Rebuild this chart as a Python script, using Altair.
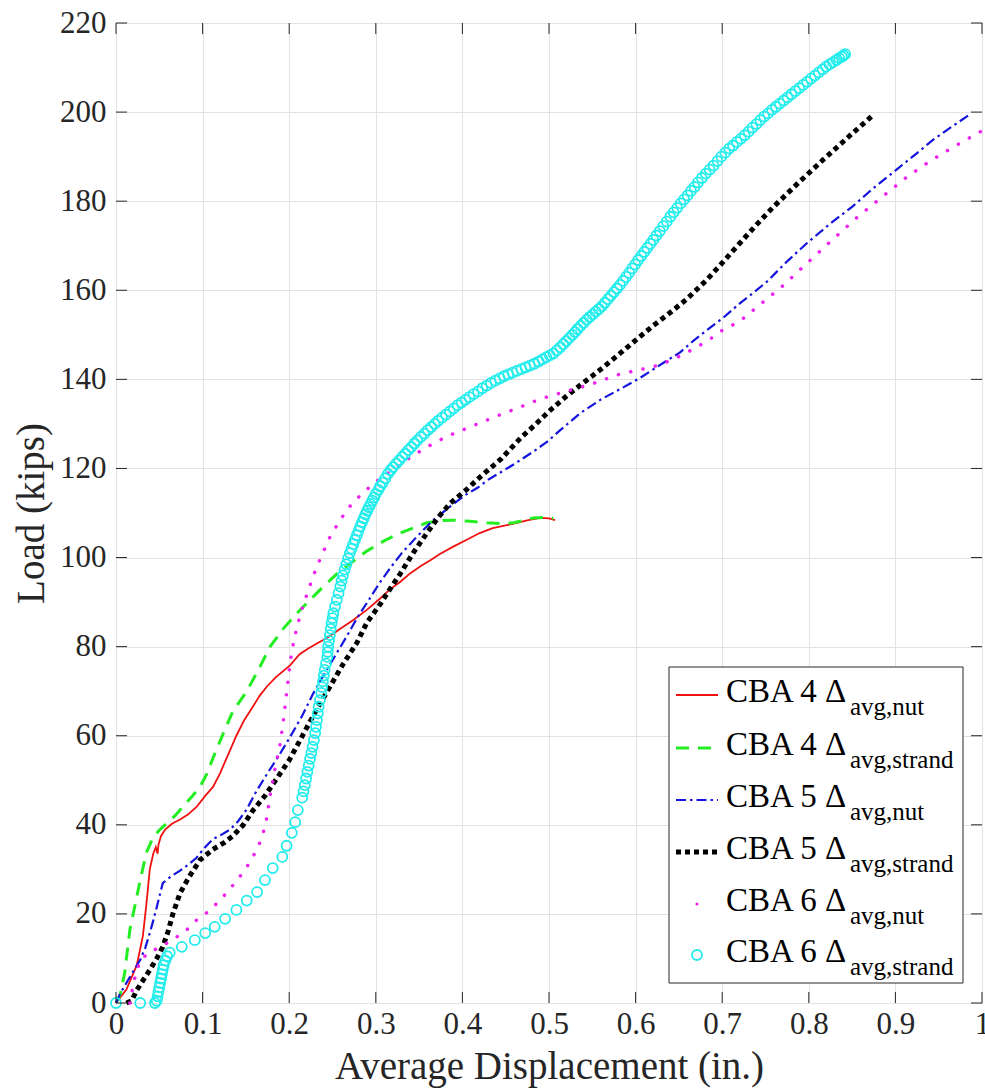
import altair as alt
import pandas as pd

# ---------------- data ----------------
x_ticks = [0, 0.1, 0.2, 0.3, 0.4, 0.5, 0.6, 0.7, 0.8, 0.9, 1]
y_ticks = [0, 20, 40, 60, 80, 100, 120, 140, 160, 180, 200, 220]

cba4_nut_x = [0, 0.012, 0.024, 0.031, 0.035, 0.039, 0.043, 0.046, 0.048, 0.049, 0.052, 0.057, 0.065, 0.074,
              0.083, 0.093, 0.103, 0.112, 0.120, 0.130, 0.139, 0.148, 0.158, 0.166, 0.174, 0.185, 0.201, 0.212,
              0.222, 0.233, 0.244, 0.259, 0.274, 0.290, 0.305, 0.316, 0.328, 0.340, 0.352, 0.363, 0.374, 0.390,
              0.405, 0.420, 0.435, 0.450, 0.463, 0.476, 0.490, 0.500, 0.507]
cba4_nut_y = [0, 3, 8.5, 15, 22, 30, 33.5, 35, 33.5, 35.5, 37.5, 39, 40.3, 41.2,
              42.3, 44, 46.5, 48.5, 51.5, 56, 60, 63.5, 66.5, 69, 71, 73.2, 75.8, 78.3,
              79.6, 80.8, 82, 84, 86, 88.3, 90.8, 92.8, 94.5, 96.5, 98.1, 99.4, 100.8, 102.5,
              104, 105.5, 106.6, 107.2, 107.8, 108.4, 108.9, 108.8, 108.4]

cba4_strand_x = [0, 0.005, 0.010, 0.016, 0.022, 0.028, 0.035, 0.043, 0.051, 0.059, 0.068, 0.077, 0.087, 0.097,
                 0.105, 0.112, 0.124, 0.135, 0.151, 0.165, 0.178, 0.193, 0.209, 0.224, 0.239, 0.256, 0.274,
                 0.290, 0.310, 0.328, 0.345, 0.359, 0.375, 0.389, 0.405, 0.428, 0.445, 0.459, 0.470, 0.482,
                 0.495, 0.505]
cba4_strand_y = [0, 2, 6.7, 16.4, 22, 27.6, 33.7, 37.3, 39, 40.4, 42, 44, 46.2, 48.5,
                 51.5, 55, 60.6, 65.5, 70, 75, 80, 84, 87.5, 90.5, 93.4, 96.5, 99.2,
                 101.5, 103.8, 105.5, 106.8, 107.8, 108.3, 108.4, 108.2, 107.8, 107.6, 107.8, 108.3, 108.9,
                 109, 108.8]

cba5_nut_x = [0, 0.005, 0.016, 0.028, 0.034, 0.039, 0.043, 0.047, 0.054, 0.064, 0.074, 0.083, 0.093, 0.102,
              0.112, 0.122, 0.132, 0.141, 0.151, 0.162, 0.174, 0.188, 0.201, 0.215, 0.228, 0.241, 0.255,
              0.267, 0.278, 0.292, 0.305, 0.318, 0.330, 0.347, 0.365, 0.386, 0.403, 0.417, 0.430, 0.443,
              0.460, 0.482, 0.498, 0.513, 0.536, 0.560, 0.582, 0.605, 0.620, 0.636, 0.651, 0.667, 0.682,
              0.701, 0.720, 0.737, 0.752, 0.775, 0.798, 0.825, 0.851, 0.875, 0.902, 0.925, 0.943, 0.965, 0.986]
cba5_nut_y = [0, 2.2, 5.8, 9.7, 12.5, 15.7, 18.5, 21.5, 26.9, 28.5, 29.7, 31, 32.6, 34.8,
              36.8, 37.8, 39, 40.8, 43.5, 47.5, 51.3, 55.5, 59.7, 64.5, 69.6, 74, 78.6,
              82.5, 86.3, 90.5, 94.5, 98, 101, 104.6, 108.2, 111.5, 114, 115.6, 117.5, 119,
              121, 123.8, 126, 128.6, 132.4, 135.5, 137.8, 140.3, 142.2, 144.2, 146, 148.7, 151,
              153.8, 157, 159.6, 162, 166.5, 170.6, 175, 178.9, 183, 187.2, 190.8, 193.7, 196.7, 199.5]

cba5_strand_x = [0.012, 0.018, 0.024, 0.031, 0.039, 0.047, 0.054, 0.060, 0.066, 0.074, 0.085, 0.097, 0.112,
                 0.125, 0.135, 0.147, 0.158, 0.172, 0.186, 0.200, 0.212, 0.225, 0.232, 0.247, 0.262, 0.278,
                 0.290, 0.305, 0.315, 0.328, 0.343, 0.359, 0.372, 0.386, 0.405, 0.420, 0.445, 0.467, 0.485,
                 0.501, 0.520, 0.540, 0.562, 0.583, 0.605, 0.620, 0.640, 0.659, 0.682, 0.697, 0.720,
                 0.740, 0.759, 0.790, 0.816, 0.845, 0.874]
cba5_strand_y = [0, 0.5, 2.9, 5, 7.4, 10, 12.6, 16, 20.2, 24.7, 28.5, 32.1, 34.5,
                 36, 37.5, 40, 43.2, 46.5, 50.5, 54.5, 58.8, 63.5, 66, 71, 76, 80.8,
                 85.5, 89.5, 92.5, 96.3, 101, 105.5, 109, 112.2, 115.3, 118, 122.2, 126.8, 130,
                 133, 136.2, 139.3, 142.6, 146, 149.6, 152, 155, 158, 162.3, 165.5, 170.5,
                 174.8, 178.7, 184.5, 189.2, 194.3, 199.3]

cba6_nut_x = [0.016, 0.018, 0.020, 0.024, 0.028, 0.040, 0.055, 0.070, 0.082, 0.093, 0.109, 0.120, 0.130,
              0.140, 0.150, 0.158, 0.165, 0.170, 0.174, 0.178, 0.183, 0.189, 0.193, 0.197, 0.201, 0.205,
              0.209, 0.214, 0.220, 0.228, 0.236, 0.247, 0.259, 0.272, 0.285, 0.300, 0.320, 0.340, 0.359,
              0.382, 0.405, 0.420, 0.443, 0.467, 0.482, 0.500, 0.520, 0.550, 0.582, 0.620, 0.640, 0.659,
              0.682, 0.700, 0.720, 0.740, 0.770, 0.798, 0.827, 0.856, 0.885, 0.913, 0.940, 0.970, 1.0]
cba6_nut_y = [0, 2, 4.5, 7, 9.7, 11.5, 13, 14.8, 16.5, 18.6, 20.9, 23.1, 25.2,
              27.6, 30.2, 32.8, 35.5, 38.2, 41.5, 46.5, 52, 57.5, 63, 69.6, 76.3, 81,
              84.4, 88, 91.5, 96, 99.8, 104.6, 108.5, 112, 114.5, 117, 119.8, 122.5, 124.8,
              127.2, 129, 130.2, 132, 133.8, 135, 136.2, 137.3, 139, 141.2, 142.8, 144.2, 146,
              148.5, 151, 153, 156.2, 161, 166.1, 171.3, 176.4, 181, 185.4, 189, 192.5, 195.8]

cba6_strand_x = [0, 0.028, 0.045, 0.047, 0.048, 0.049, 0.050, 0.051, 0.052, 0.053, 0.054, 0.055, 0.057,
                 0.059, 0.062, 0.076, 0.091, 0.103, 0.114, 0.126, 0.139, 0.151, 0.163, 0.172, 0.181, 0.192,
                 0.197, 0.203, 0.207, 0.210,
                 0.215, 0.2165, 0.218, 0.2195, 0.221, 0.2225, 0.224, 0.2255, 0.227, 0.2285, 0.230, 0.231,
                 0.232, 0.233, 0.234, 0.2355, 0.237, 0.238, 0.239, 0.240, 0.241, 0.2425, 0.244, 0.2445,
                 0.245, 0.246, 0.247, 0.248, 0.249, 0.250, 0.251, 0.253, 0.255, 0.257, 0.259, 0.2605,
                 0.262, 0.264, 0.266, 0.268, 0.270, 0.272, 0.274, 0.276, 0.278, 0.280, 0.282, 0.284,
                 0.286, 0.288, 0.290, 0.292, 0.294, 0.296, 0.298, 0.300, 0.303, 0.305, 0.308, 0.311,
                 0.314, 0.317, 0.320, 0.3235, 0.327, 0.3305, 0.334, 0.3375, 0.341, 0.3445, 0.348, 0.352,
                 0.356, 0.360, 0.364, 0.368, 0.372, 0.3765, 0.381, 0.3855, 0.390, 0.3945, 0.399, 0.4035,
                 0.408, 0.413, 0.418, 0.423, 0.428, 0.433, 0.438, 0.443, 0.448, 0.453, 0.458, 0.463,
                 0.468, 0.473, 0.478, 0.483, 0.488, 0.4925, 0.497, 0.501, 0.505, 0.509, 0.513, 0.5165,
                 0.520, 0.5235, 0.527, 0.530, 0.533, 0.5365, 0.540, 0.5435, 0.547, 0.5505, 0.554, 0.5575,
                 0.561, 0.5645, 0.568, 0.5715, 0.575, 0.5785, 0.582, 0.5855, 0.589, 0.5925, 0.596, 0.5995,
                 0.603, 0.6065, 0.610, 0.6135, 0.617, 0.6205, 0.624, 0.628, 0.632, 0.636, 0.640, 0.644,
                 0.648, 0.652, 0.656, 0.660, 0.664, 0.668, 0.672, 0.6765, 0.681, 0.6855, 0.690, 0.6945,
                 0.699, 0.7035, 0.708, 0.7125, 0.717, 0.7215, 0.726, 0.7305, 0.735, 0.7395, 0.744, 0.7485,
                 0.753, 0.7575, 0.762, 0.7665, 0.771, 0.7755, 0.780, 0.7845, 0.789, 0.7935, 0.798, 0.8025,
                 0.807, 0.8115, 0.816, 0.820, 0.824, 0.828, 0.832, 0.835, 0.838, 0.840, 0.842]
cba6_strand_y = [0, 0, 0, 0.5, 1.5, 2.5, 3.5, 4.5, 5.5, 6.5, 7.5, 8.5, 9.5,
                 10.5, 11.3, 12.6, 14.1, 15.7, 17.1, 18.9, 20.9, 23.0, 24.9, 27.6, 30.3, 32.8,
                 35.3, 38.2, 40.6, 43.3,
                 46.1, 47.5, 48.9, 50.4, 51.9, 53.3, 54.8, 56.1, 57.5, 59.0, 60.6, 62.0,
                 63.5, 65.0, 66.5, 68.0, 69.6, 70.9, 72.2, 73.5, 74.8, 76.2, 77.7, 78.8,
                 80.0, 81.3, 82.6, 84.0, 85.3, 86.4, 87.5, 89.0, 90.5, 92.0, 93.5, 94.8,
                 96.0, 97.3, 98.5, 99.8, 101.0, 102.0, 103.0, 104.0, 105.0, 106.0, 107.0, 107.9,
                 108.8, 109.7, 110.5, 111.3, 112.0, 112.8, 113.5, 114.3, 115.2, 116.0, 116.8, 117.8,
                 118.8, 119.6, 120.3, 121.1, 121.8, 122.6, 123.3, 124.1, 124.8, 125.6, 126.3, 127.1,
                 127.8, 128.6, 129.3, 130.0, 130.7, 131.4, 132.1, 132.8, 133.5, 134.2, 134.8, 135.4,
                 136.0, 136.7, 137.3, 138.0, 138.6, 139.2, 139.7, 140.2, 140.7, 141.1, 141.5, 141.9,
                 142.3, 142.7, 143.1, 143.5, 144.0, 144.5, 145.0, 145.4, 145.8, 146.5, 147.2, 147.9,
                 148.6, 149.3, 150.0, 150.6, 151.3, 152.0, 152.7, 153.4, 154.0, 154.6, 155.2, 155.8,
                 156.4, 157.2, 158.0, 158.8, 159.6, 160.4, 161.2, 162.1, 163.0, 163.9, 164.9, 165.8,
                 166.8, 167.7, 168.6, 169.5, 170.4, 171.3, 172.3, 173.3, 174.4, 175.4, 176.5, 177.5,
                 178.5, 179.5, 180.4, 181.3, 182.3, 183.2, 184.2, 185.2, 186.2, 187.1, 188.0, 189.0,
                 190.0, 190.9, 191.8, 192.5, 193.3, 194.0, 194.8, 195.6, 196.5, 197.3, 198.2, 199.0,
                 199.7, 200.5, 201.2, 201.9, 202.6, 203.3, 204.0, 204.7, 205.4, 206.1, 206.8, 207.5,
                 208.2, 208.9, 209.6, 210.2, 210.7, 211.2, 211.7, 212.1, 212.4, 212.7, 213.0]

legend_main = ["CBA 4 \u0394", "CBA 4 \u0394", "CBA 5 \u0394", "CBA 5 \u0394", "CBA 6 \u0394", "CBA 6 \u0394"]
legend_sub = ["avg,nut", "avg,strand", "avg,nut", "avg,strand", "avg,nut", "avg,strand"]

# ---------------- styling ----------------
W, H = 866, 980
FONT = "Liberation Serif"
TXT = "#262626"
C_RED, C_GREEN, C_BLUE, C_BLACK, C_MAG, C_CYAN = "#f01010", "#22ee22", "#1414dc", "#000000", "#ee22ee", "#22ecec"

xscale = alt.Scale(domain=[0, 1], nice=False, zero=False)
yscale = alt.Scale(domain=[0, 220], nice=False, zero=False)

x_axis = alt.Axis(values=x_ticks, format="~g", grid=True, gridColor="#e2e2e2", gridWidth=1,
                  ticks=False, domain=False, labelFont=FONT, labelFontSize=31, labelColor=TXT,
                  labelPadding=6, labelFlush=False, labelOverlap=False,
                  title="Average Displacement (in.)", titleFont=FONT, titleFontSize=39,
                  titleFontWeight="normal", titleColor=TXT, titlePadding=8)
y_axis = alt.Axis(values=y_ticks, grid=True, gridColor="#e2e2e2", gridWidth=1,
                  ticks=False, domain=False, labelFont=FONT, labelFontSize=31, labelColor=TXT,
                  labelPadding=10, labelFlush=False, labelOverlap=False,
                  title="Load (kips)", titleFont=FONT, titleFontSize=39,
                  titleFontWeight="normal", titleColor=TXT, titlePadding=8)


def frame(xs, ys):
    return pd.DataFrame({"x": xs, "y": ys, "i": list(range(len(xs)))})


def enc():
    return dict(x=alt.X("x:Q", scale=xscale, axis=x_axis),
                y=alt.Y("y:Q", scale=yscale, axis=y_axis),
                order="i:Q")


red = alt.Chart(frame(cba4_nut_x, cba4_nut_y)).mark_line(color=C_RED, strokeWidth=1.8).encode(**enc())
green = alt.Chart(frame(cba4_strand_x, cba4_strand_y)).mark_line(
    color=C_GREEN, strokeWidth=3, strokeDash=[13, 9]).encode(**enc())
blue = alt.Chart(frame(cba5_nut_x, cba5_nut_y)).mark_line(
    color=C_BLUE, strokeWidth=2.2, strokeDash=[10, 4, 2.5, 4]).encode(**enc())
black = alt.Chart(frame(cba5_strand_x, cba5_strand_y)).mark_line(
    color=C_BLACK, strokeWidth=5, strokeDash=[5, 4]).encode(**enc())
mag = alt.Chart(frame(cba6_nut_x, cba6_nut_y)).mark_line(
    color=C_MAG, strokeWidth=3.5, strokeDash=[0.1, 12.5], strokeCap="round").encode(**enc())
cyan = alt.Chart(frame(cba6_strand_x, cba6_strand_y)).mark_point(
    shape="circle", filled=False, size=100, strokeWidth=1.8, color=C_CYAN, opacity=1).encode(
    x=alt.X("x:Q", scale=xscale, axis=x_axis), y=alt.Y("y:Q", scale=yscale, axis=y_axis))

# inward ticks on all four sides (MATLAB box style)
TK = 11
ydf = pd.DataFrame({"y": y_ticks})
xdf = pd.DataFrame({"x": x_ticks})
tick_style = dict(color=TXT, strokeWidth=1)
yt = alt.Y("y:Q", scale=yscale, axis=y_axis)
xt = alt.X("x:Q", scale=xscale, axis=x_axis)
ticks = [
    alt.Chart(ydf).mark_rule(**tick_style).encode(y=yt, x=alt.value(0), x2=alt.value(TK)),
    alt.Chart(ydf).mark_rule(**tick_style).encode(y=yt, x=alt.value(W), x2=alt.value(W - TK)),
    alt.Chart(xdf).mark_rule(**tick_style).encode(x=xt, y=alt.value(H), y2=alt.value(H - TK)),
    alt.Chart(xdf).mark_rule(**tick_style).encode(x=xt, y=alt.value(0), y2=alt.value(TK)),
]

# custom legend (subscripted labels)
one = alt.Data(values=[{"k": 1}])
LX0, LX1, LY0, LY1 = 553, 847, 644, 960
legend_layers = [alt.Chart(one).mark_rect(fill="white", stroke=TXT, strokeWidth=1).encode(
    x=alt.value(LX0), x2=alt.value(LX1), y=alt.value(LY0), y2=alt.value(LY1))]
rows = [672, 725, 777, 829, 881, 932]
sx0, sx1 = 560, 602
styles = [
    dict(color=C_RED, strokeWidth=1.8),
    dict(color=C_GREEN, strokeWidth=3, strokeDash=[13, 9]),
    dict(color=C_BLUE, strokeWidth=2.2, strokeDash=[10, 4, 2.5, 4]),
    dict(color=C_BLACK, strokeWidth=5, strokeDash=[5, 4]),
]
for k in range(4):
    legend_layers.append(alt.Chart(one).mark_rule(**styles[k]).encode(
        x=alt.value(sx0), x2=alt.value(sx1), y=alt.value(rows[k])))
legend_layers.append(alt.Chart(one).mark_point(shape="circle", filled=True, size=10, color=C_MAG, opacity=1).encode(
    x=alt.value(581), y=alt.value(rows[4])))
legend_layers.append(alt.Chart(one).mark_point(shape="circle", filled=False, size=100, strokeWidth=1.8,
                                               color=C_CYAN, opacity=1).encode(
    x=alt.value(581), y=alt.value(rows[5])))
for k in range(6):
    legend_layers.append(alt.Chart(one).mark_text(
        font=FONT, fontSize=33, color="#000000", align="left", baseline="alphabetic").encode(
        x=alt.value(610), y=alt.value(rows[k] + 7), text=alt.value(legend_main[k])))
    legend_layers.append(alt.Chart(one).mark_text(
        font=FONT, fontSize=25, color="#000000", align="left", baseline="alphabetic").encode(
        x=alt.value(734), y=alt.value(rows[k] + 20), text=alt.value(legend_sub[k])))

chart = alt.layer(red, green, blue, black, mag, cyan, *ticks, *legend_layers).properties(
    width=W, height=H,
    autosize=alt.AutoSizeParams(type="none"),
    padding={"left": 116, "top": 23, "right": 3, "bottom": 87},
    background="white",
).configure_view(stroke=TXT, strokeWidth=1)

chart.save("out.html", embed_options={"renderer": "svg", "actions": False})
